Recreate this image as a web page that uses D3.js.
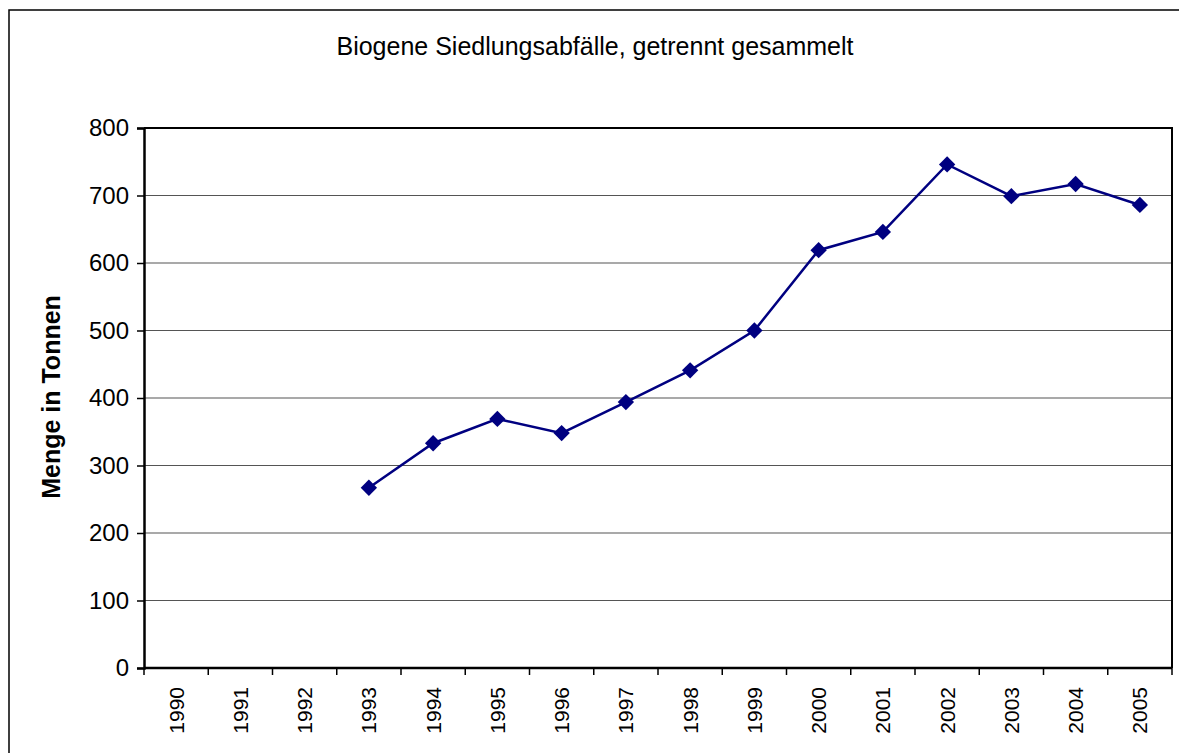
<!DOCTYPE html>
<html><head><meta charset="utf-8">
<script src="https://cdn.jsdelivr.net/npm/d3@7"></script>
<style>html,body{margin:0;padding:0;background:#fff;}svg{display:block;}</style>
</head><body>
<svg id="chart" width="1179" height="753"></svg>
<script>
const years = ["1990","1991","1992","1993","1994","1995","1996","1997","1998","1999","2000","2001","2002","2003","2004","2005"];
const values = [null,null,null,267,333,369,348,394,441,500,619,646,746,699,717,686];
const yTicks = [0,100,200,300,400,500,600,700,800];
const title = "Biogene Siedlungsabfälle, getrennt gesammelt";
const yTitle = "Menge in Tonnen";

const svg = d3.select("#chart");
const font = "Arial, 'Liberation Sans', sans-serif";
const L = 144, T = 128, R = 1172, B = 668;

svg.append("rect").attr("x",9).attr("y",10).attr("width",1200).attr("height",800)
  .attr("fill","none").attr("stroke","#000").attr("stroke-width",1.5);

const x = d3.scaleBand().domain(years).range([L,R]).padding(0);
const y = d3.scaleLinear().domain([0,800]).range([B,T]);

// gridlines
svg.append("g").selectAll("line").data(yTicks.filter(d=>d>0)).join("line")
  .attr("x1",L).attr("x2",R).attr("y1",d=>y(d)).attr("y2",d=>y(d))
  .attr("stroke","#555").attr("stroke-width",1.2);

// plot border (top/right)
svg.append("path").attr("d",`M${L},${T}H${R}V${B}`).attr("fill","none").attr("stroke","#000").attr("stroke-width",2);

// y axis
const ya = svg.append("g").attr("transform",`translate(${L},0)`)
  .call(d3.axisLeft(y).tickValues(yTicks).tickSize(7).tickPadding(8));
ya.attr("font-size",null).attr("font-family",null);
ya.select(".domain").attr("stroke","#000").attr("stroke-width",2.5);
ya.selectAll(".tick line").attr("stroke","#000").attr("stroke-width",1.5);
ya.selectAll("text").attr("font-family",font).attr("font-size",24).attr("fill","#000");

// x axis
const xTickPos = years.map(d=>x(d)).concat([R]);
svg.append("line").attr("x1",L).attr("x2",R).attr("y1",B).attr("y2",B).attr("stroke","#000").attr("stroke-width",2.5);
svg.append("g").selectAll("line").data(xTickPos).join("line")
  .attr("x1",d=>d).attr("x2",d=>d).attr("y1",B).attr("y2",B+7)
  .attr("stroke","#000").attr("stroke-width",1.5);
svg.append("g").selectAll("text").data(years).join("text")
  .attr("transform",d=>`translate(${x(d)+x.bandwidth()/2+7.5},${B+19}) rotate(-90)`)
  .attr("text-anchor","end").attr("font-family",font).attr("font-size",21).text(d=>d);

// line
const pts = years.map((d,i)=>({year:d,v:values[i]})).filter(d=>d.v!==null);
const line = d3.line().x(d=>x(d.year)+x.bandwidth()/2).y(d=>y(d.v));
svg.append("path").datum(pts).attr("d",line).attr("fill","none").attr("stroke","#000080").attr("stroke-width",2.5);
svg.append("g").selectAll("path").data(pts).join("path")
  .attr("d",d3.symbol().type(d3.symbolDiamond2).size(170)())
  .attr("transform",d=>`translate(${x(d.year)+x.bandwidth()/2},${y(d.v)})`)
  .attr("fill","#000080");

// titles
svg.append("text").attr("x",595).attr("y",55).attr("text-anchor","middle")
  .attr("font-family",font).attr("font-size",25).text(title);
svg.append("text").attr("transform",`translate(60,397) rotate(-90)`).attr("text-anchor","middle")
  .attr("font-family",font).attr("font-size",25).attr("font-weight","bold").text(yTitle);
</script>
</body></html>
